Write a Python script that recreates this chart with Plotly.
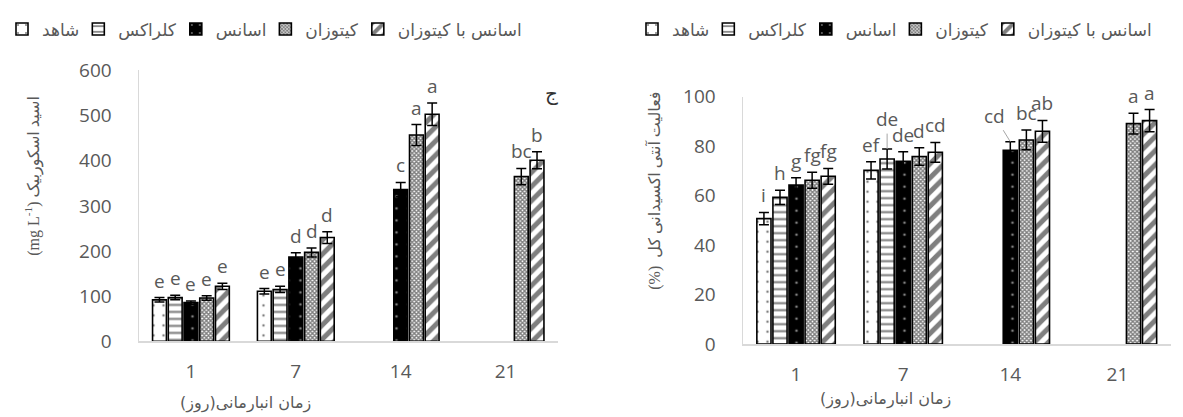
import plotly.graph_objects as go

# ---------------- data ----------------
days = ["1", "7", "14", "21"]
series_names = ["شاهد", "کلراکس", "اسانس", "کیتوزان", "اسانس با کیتوزان"]

# Left panel (ج): ascorbic acid (mg L-1)
asc_control = [92, 111, None, None]
asc_clorax = [97, 115, None, None]
asc_essence = [86, 187, 336, None]
asc_chitosan = [96, 197, 457, 365]
asc_ess_chit = [122, 230, 503, 401]

asc_control_err = [5, 6, None, None]
asc_clorax_err = [5, 7, None, None]
asc_essence_err = [3.5, 9, 16, None]
asc_chitosan_err = [5, 10, 23, 18]
asc_ess_chit_err = [7, 13, 25, 19]

asc_control_lbl = ["e", "e", "", ""]
asc_clorax_lbl = ["e", "e", "", ""]
asc_essence_lbl = ["e", "d", "c", ""]
asc_chitosan_lbl = ["e", "d", "a", "bc"]
asc_ess_chit_lbl = ["e", "d", "a", "b"]

# Right panel (د): total antioxidant activity (%)
ant_control = [50.7, 70.2, None, None]
ant_clorax = [59.3, 74.8, None, None]
ant_essence = [64.3, 73.9, 78.3, None]
ant_chitosan = [66.2, 75.8, 82.5, 89.1]
ant_ess_chit = [67.8, 77.5, 86.0, 90.3]

ant_control_err = [2.5, 3.5, None, None]
ant_clorax_err = [2.9, 4.0, None, None]
ant_essence_err = [2.9, 3.8, 3.5, None]
ant_chitosan_err = [3.2, 3.5, 4.0, 4.2]
ant_ess_chit_err = [3.2, 4.0, 4.4, 4.5]

ant_control_lbl = ["i", "ef", "", ""]
ant_clorax_lbl = ["h", "de", "", ""]
ant_essence_lbl = ["g", "de", "cd", ""]
ant_chitosan_lbl = ["fg", "d", "bc", "a"]
ant_ess_chit_lbl = ["fg", "cd", "ab", "a"]

# ---------------- styles ----------------
W, H = 1183, 417
GRAY = "#595959"
AXIS = "#d9d9d9"
TICK_FONT = dict(family="Open Sans", size=19, color=GRAY)
FA_FONT = "DejaVu Sans"
BARGAP = 0.25
SLOT = (1 - BARGAP) / 5

patterns = [
    dict(shape=".", bgcolor="white", fgcolor="black", size=10, solidity=0.05),
    dict(shape="-", bgcolor="white", fgcolor="black", size=7, solidity=0.3),
    dict(shape=".", bgcolor="black", fgcolor="white", size=12, solidity=0.04),
    dict(shape="x", bgcolor="white", fgcolor="black", size=3, solidity=0.7),
    dict(shape="/", bgcolor="white", fgcolor="black", size=10, solidity=0.5),
]


def px_x(p):
    return p / W


def px_y(p):
    return 1 - p / H


fig = go.Figure()
xs = list(range(len(days)))

panels = [
    dict(
        key="asc", xa="x", ya="y", legend="legend",
        vals=[asc_control, asc_clorax, asc_essence, asc_chitosan, asc_ess_chit],
        errs=[asc_control_err, asc_clorax_err, asc_essence_err, asc_chitosan_err, asc_ess_chit_err],
        lbls=[asc_control_lbl, asc_clorax_lbl, asc_essence_lbl, asc_chitosan_lbl, asc_ess_chit_lbl],
    ),
    dict(
        key="ant", xa="x2", ya="y2", legend="legend2",
        vals=[ant_control, ant_clorax, ant_essence, ant_chitosan, ant_ess_chit],
        errs=[ant_control_err, ant_clorax_err, ant_essence_err, ant_chitosan_err, ant_ess_chit_err],
        lbls=[ant_control_lbl, ant_clorax_lbl, ant_essence_lbl, ant_chitosan_lbl, ant_ess_chit_lbl],
    ),
]

# special label placements (leader lines) : (panel, series, day) -> arrow offsets
leaders = {("ant", 1, 1): dict(ax=0, ay=-30), ("ant", 2, 2): dict(ax=-16, ay=-26)}

annotations = []
for p in panels:
    for k, name in enumerate(series_names):
        fig.add_trace(go.Bar(
            x=xs, y=p["vals"][k], name=name,
            xaxis=p["xa"], yaxis=p["ya"], legend=p["legend"],
            marker=dict(color=patterns[k]["bgcolor"], pattern=patterns[k],
                        line=dict(color="black", width=1.6)),
            error_y=dict(type="data", array=p["errs"][k], visible=True,
                         color="black", thickness=1.5, width=5),
        ))
        for i in xs:
            lab = p["lbls"][k][i]
            if not lab:
                continue
            top = p["vals"][k][i] + p["errs"][k][i]
            xpos = i + (k - 2) * SLOT
            key = (p["key"], k, i)
            if key in leaders:
                annotations.append(dict(
                    x=xpos, y=top, xref=p["xa"], yref=p["ya"], text=lab,
                    showarrow=True, arrowhead=0, arrowwidth=1, arrowcolor="#a6a6a6",
                    ax=leaders[key]["ax"], ay=leaders[key]["ay"],
                    font=TICK_FONT))
            else:
                annotations.append(dict(
                    x=xpos, y=top, xref=p["xa"], yref=p["ya"], text=lab,
                    showarrow=False, yanchor="middle", yshift=17,
                    font=TICK_FONT))


def paper_text(x, y, text, font, angle=0, xanchor="center"):
    return dict(x=px_x(x), y=px_y(y), xref="paper", yref="paper", showarrow=False,
                xanchor=xanchor, yanchor="middle", text=text, textangle=angle,
                font=font)


TITLE_FONT = dict(family="Liberation Serif, DejaVu Sans", size=16, color=GRAY)
XT_FONT = dict(family=FA_FONT, size=16, color=GRAY)
PANEL_FONT = dict(family=FA_FONT, size=20, color="#333333")

annotations += [
    paper_text(25, 165, "(mg L<sup>-1</sup>) اسید اسکوربیک", TITLE_FONT, -90),
    paper_text(647, 181, "(%)  فعالیت آنتی اکسیدانی کل", TITLE_FONT, -90),
    paper_text(237, 407, "زمان انبارمانی(روز)\u200f", XT_FONT),
    paper_text(877, 403, "زمان انبارمانی(روز)\u200f", XT_FONT),
    paper_text(543, 77, "ج", PANEL_FONT),
    paper_text(1172, 72, "د", PANEL_FONT, xanchor="left"),
]

xcommon = dict(range=[-0.5, 3.5], tickvals=xs, ticktext=days, showgrid=False,
               zeroline=False, showline=True, linecolor=AXIS, linewidth=2,
               ticks="", tickfont=TICK_FONT, ticklabelstandoff=12, fixedrange=True)
ycommon = dict(showgrid=False, zeroline=False, showline=True, linecolor=AXIS,
               linewidth=1, ticks="", tickfont=TICK_FONT, ticklabelstandoff=22)

legend_common = dict(orientation="h", yanchor="middle", y=px_y(9), xanchor="left",
                     font=dict(family=FA_FONT, size=17, color=GRAY),
                     itemwidth=30, tracegroupgap=0, indentation=-6,
                     bgcolor="rgba(0,0,0,0)")

fig.update_layout(
    width=W, height=H,
    margin=dict(l=0, r=0, t=0, b=0),
    paper_bgcolor="white", plot_bgcolor="white",
    barmode="group", bargap=BARGAP, bargroupgap=0.12,
    showlegend=True,
    xaxis=dict(domain=[px_x(130.5), px_x(550)], anchor="y", **xcommon),
    yaxis=dict(domain=[px_y(341.7), px_y(52.7)], anchor="x", range=[0, 600],
               dtick=100, **ycommon),
    xaxis2=dict(domain=[px_x(734.5), px_x(1163)], anchor="y2", **xcommon),
    yaxis2=dict(domain=[px_y(344.5), px_y(80.7)], anchor="x2", range=[0, 100],
                dtick=20, **ycommon),
    legend=dict(x=0, **legend_common),
    legend2=dict(x=px_x(630), **legend_common),
    annotations=annotations,
)

fig.write_html("out.html")
